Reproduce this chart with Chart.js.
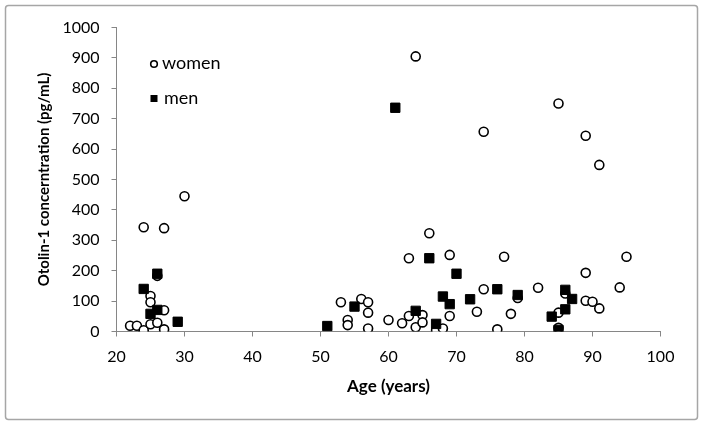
<!DOCTYPE html>
<html>
<head>
<meta charset="utf-8">
<script src="https://cdn.jsdelivr.net/npm/chart.js@4"></script>
<style>
body { margin: 0; background: #fff; }
canvas { display: block; }
</style>
</head>
<body>
<canvas id="otolinChart" width="704" height="427"></canvas>
<script>
// values
const womenAge = [22, 23, 24, 24, 25, 25, 25, 26, 26, 27, 27, 27, 30,
  53, 54, 54, 56, 57, 57, 57, 60, 62, 63, 63, 64, 64, 65, 65, 66, 67, 68, 69, 69,
  73, 74, 74, 76, 77, 78, 79, 82, 85, 85, 85, 86, 89, 89, 89, 90, 91, 91, 94, 95];
const womenOtolin = [19, 19, 4, 343, 117, 96, 24, 29, 183, 340, 70, 7, 445,
  96, 38, 21, 107, 96, 62, 10, 38, 27, 51, 241, 905, 14, 54, 30, 323, 5, 10, 252, 51,
  65, 657, 139, 7, 246, 58, 110, 144, 750, 62, 12, 125, 644, 193, 101, 98, 548, 76, 145, 246];

const menAge = [24, 25, 26, 26, 29, 51, 55, 61, 64, 66, 67, 68, 69, 70, 72, 76, 79, 84, 85, 86, 86, 87];
const menOtolin = [140, 58, 190, 71, 32, 18, 82, 736, 68, 241, 25, 115, 90, 190, 106, 139, 120, 49, 5, 137, 73, 107];

const xTicks = [20, 30, 40, 50, 60, 70, 80, 90, 100];
const yTicks = [0, 100, 200, 300, 400, 500, 600, 700, 800, 900, 1000];

const axisGray = "#868686";
const fontFamily = "Lato, 'Open Sans', sans-serif";

const frame = {
  id: "frame",
  beforeDraw(chart) {
    const c = chart.ctx;
    c.save();
    c.fillStyle = "#fff";
    c.fillRect(0, 0, chart.width, chart.height);
    c.strokeStyle = "#a6a6a6";
    c.lineWidth = 1.5;
    c.beginPath();
    c.roundRect(5.5, 5.5, 692, 414, 3);
    c.stroke();
    c.restore();
  }
};

// legend sits inside the plot area, top left
const insideLegend = {
  id: "insideLegend",
  afterDraw(chart) {
    const c = chart.ctx;
    const a = chart.chartArea;
    const mx = a.left + 37.5;
    c.save();
    c.font = "18px " + fontFamily;
    c.textBaseline = "middle";
    c.fillStyle = "#000";
    c.strokeStyle = "#000";
    c.lineWidth = 1.6;
    c.beginPath();
    c.arc(mx, a.top + 36.5, 3.3, 0, Math.PI * 2);
    c.stroke();
    c.fillText("women", mx + 8, a.top + 36);
    c.fillRect(mx - 3.5, a.top + 67.5, 7, 7);
    c.fillText("men", mx + 10, a.top + 71);
    c.restore();
  }
};

new Chart(document.getElementById("otolinChart"), {
  type: "scatter",
  data: {
    datasets: [
      {
        label: "women",
        data: womenAge.map((a, i) => ({ x: a, y: womenOtolin[i] })),
        pointStyle: "circle",
        pointRadius: 4.5,
        borderWidth: 1.6,
        borderColor: "#000",
        backgroundColor: "#fff",
        order: 2
      },
      {
        label: "men",
        data: menAge.map((a, i) => ({ x: a, y: menOtolin[i] })),
        pointStyle: "rect",
        pointRadius: 6.6,
        borderWidth: 1,
        borderColor: "#000",
        backgroundColor: "#000",
        order: 1
      }
    ]
  },
  options: {
    responsive: false,
    animation: false,
    events: [],
    layout: { padding: { left: 35, right: 43.5, top: 27.5, bottom: 30 } },
    plugins: {
      legend: { display: false },
      tooltip: { enabled: false }
    },
    scales: {
      x: {
        type: "linear",
        min: xTicks[0],
        max: xTicks[xTicks.length - 1],
        afterBuildTicks: s => { s.ticks = xTicks.map(v => ({ value: v })); },
        afterFit: s => { s.height = 427 - 30 - 331.5; },
        grid: { drawOnChartArea: false, drawTicks: true, tickLength: 5, color: axisGray },
        border: { display: true, color: axisGray, width: 1 },
        ticks: { color: "#000", padding: 11, font: { family: fontFamily, size: 16 }, callback: v => String(v) },
        title: {
          display: true,
          text: "Age (years)",
          color: "#000",
          padding: 0,
          font: { family: fontFamily, size: 17, weight: "bold" }
        }
      },
      y: {
        type: "linear",
        min: yTicks[0],
        max: yTicks[yTicks.length - 1],
        afterBuildTicks: s => { s.ticks = yTicks.map(v => ({ value: v })); },
        afterFit: s => { s.width = 116.5 - 35; },
        grid: { drawOnChartArea: false, drawTicks: true, tickLength: 5, color: axisGray },
        border: { display: true, color: axisGray, width: 1 },
        ticks: { color: "#000", padding: 12, font: { family: fontFamily, size: 16 }, callback: v => String(v) },
        title: {
          display: true,
          text: "Otolin-1 concerntration (pg/mL)",
          color: "#000",
          padding: 0,
          font: { family: fontFamily, size: 15, weight: "bold" }
        }
      }
    }
  },
  plugins: [frame, insideLegend]
});
</script>
</body>
</html>
